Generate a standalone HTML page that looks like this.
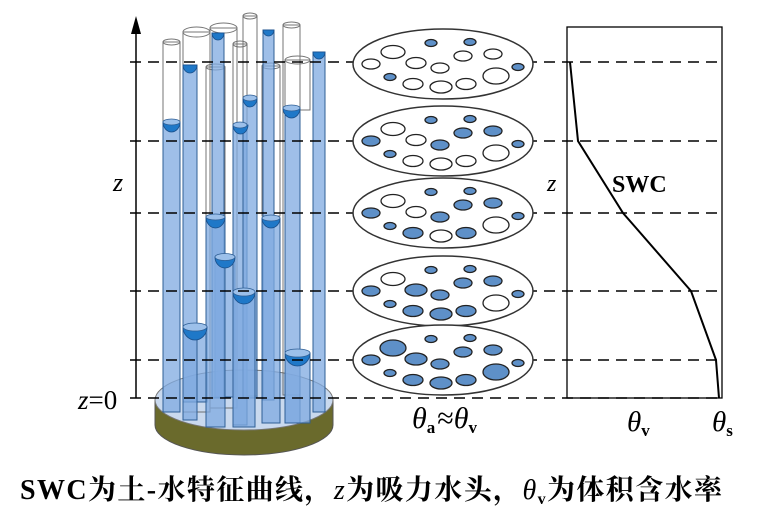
<!DOCTYPE html>
<html><head><meta charset="utf-8"><style>
html,body{margin:0;padding:0;background:#fff;}
svg{display:block}
</style></head><body>
<svg width="757" height="518" viewBox="0 0 757 518" xmlns="http://www.w3.org/2000/svg">
<!-- base -->
<path d="M155,400 L155,425 A89,30 0 0 0 333,425 L333,400 Z" fill="#6a6a2c" stroke="#555" stroke-width="1"/>
<ellipse cx="244" cy="400" rx="89" ry="30" fill="#c9d9ee" stroke="#777" stroke-width="1"/>

<g stroke="#555" stroke-width="1" fill="none" opacity="0.8">
 <rect x="183" y="32" width="27" height="380"/>
 <ellipse cx="196.5" cy="32" rx="13.5" ry="5"/>
 <rect x="210" y="28" width="27" height="380"/>
 <ellipse cx="223.5" cy="28" rx="13.5" ry="5"/>
 <rect x="243" y="16" width="14" height="380"/>
 <ellipse cx="250" cy="16" rx="7" ry="3"/>
 <rect x="283" y="25" width="17" height="370"/>
 <ellipse cx="291.5" cy="25" rx="8.5" ry="3"/>
 <rect x="163" y="42" width="17" height="80"/>
 <ellipse cx="171.5" cy="42" rx="8.5" ry="3"/>
 <rect x="233" y="44" width="14" height="80"/>
 <ellipse cx="240" cy="44" rx="7" ry="3"/>
 <rect x="285" y="60" width="25" height="50"/>
 <ellipse cx="297.5" cy="60" rx="12.5" ry="4"/>
 <rect x="262" y="66" width="18" height="150"/>
 <ellipse cx="271" cy="66" rx="9" ry="3"/>
 <rect x="206" y="67" width="19" height="150"/>
 <ellipse cx="215.5" cy="67" rx="9.5" ry="3"/>
</g>
<g fill="#7fa9e0" fill-opacity="0.75" stroke="#2f5f95" stroke-width="1">
 <rect x="183" y="327" width="24" height="75"/>
 <rect x="215" y="257" width="20" height="140"/>
 <rect x="163" y="122" width="17" height="290"/>
 <rect x="183" y="65" width="14" height="355"/>
 <rect x="212" y="33" width="12" height="365"/>
 <rect x="206" y="217" width="19" height="210"/>
 <rect x="233" y="125" width="14" height="300"/>
 <rect x="243" y="98" width="14" height="300"/>
 <rect x="263" y="30" width="11" height="370"/>
 <rect x="262" y="218" width="18" height="205"/>
 <rect x="233" y="292" width="22" height="135"/>
 <rect x="285" y="108" width="15" height="315"/>
 <rect x="285" y="353" width="25" height="70"/>
 <rect x="313" y="52" width="12" height="360"/>
</g>
<g fill="#1f78c8" stroke="#1a4f8a" stroke-width="0.8">
 <path d="M163,122 a8.5,10 0 0 0 17,0z"/>
 <path d="M183,65 a7,8 0 0 0 14,0z"/>
 <path d="M212,33 a6,7 0 0 0 12,0z"/>
 <path d="M206,217 a9.5,11 0 0 0 19,0z"/>
 <path d="M233,125 a7.5,9 0 0 0 15,0z"/>
 <path d="M243,98 a7,9 0 0 0 14,0z"/>
 <path d="M263,30 a5.5,6 0 0 0 11,0z"/>
 <path d="M262,218 a9,10 0 0 0 18,0z"/>
 <path d="M283,108 a8.5,10 0 0 0 17,0z"/>
 <path d="M313,52 a6,7 0 0 0 12,0z"/>
 <path d="M215,257 a10,11 0 0 0 20,0z"/>
 <path d="M233,292 a11,12 0 0 0 22,0z"/>
 <path d="M183,327 a12,13 0 0 0 24,0z"/>
 <path d="M285,353 a12.5,13 0 0 0 25,0z"/>
</g>
<g fill="#9cc0ea" stroke="#2f5f95" stroke-width="0.8">
 <ellipse cx="171.5" cy="122" rx="8.5" ry="3"/>
 <ellipse cx="215.5" cy="217" rx="9.5" ry="3"/>
 <ellipse cx="240" cy="125" rx="7" ry="3"/>
 <ellipse cx="250" cy="98" rx="7" ry="3"/>
 <ellipse cx="271" cy="218" rx="9" ry="3"/>
 <ellipse cx="291.5" cy="108" rx="8.5" ry="3"/>
 <ellipse cx="225" cy="257" rx="10" ry="3.5"/>
 <ellipse cx="244" cy="292" rx="11" ry="4"/>
 <ellipse cx="195" cy="327" rx="12" ry="4"/>
 <ellipse cx="297.5" cy="353" rx="12.5" ry="4"/>
</g>

<line x1="136" y1="398" x2="136" y2="30" stroke="#000" stroke-width="1.5"/>
<path d="M131,34 L136,16 L141,34 Z" fill="#000"/>
<text x="113" y="191" font-family="Liberation Serif,serif" font-style="italic" font-size="26">z</text>
<text x="78" y="409" font-family="Liberation Serif,serif" font-size="27"><tspan font-style="italic">z</tspan>=0</text>

<g stroke="#000" stroke-width="1.4" stroke-dasharray="11,7">
 <line x1="130" y1="62" x2="722" y2="62"/>
 <line x1="130" y1="141" x2="722" y2="141"/>
 <line x1="130" y1="213" x2="722" y2="213"/>
 <line x1="130" y1="291" x2="722" y2="291"/>
 <line x1="130" y1="360" x2="722" y2="360"/>
 <line x1="130" y1="398" x2="722" y2="398"/>
</g>

<!-- disks; pore classes: s rx6 ry3.5, m rx9 ry5, l rx12 ry7 -->
<g transform="translate(443,64)">
 <ellipse rx="90" ry="35" fill="#fff" stroke="#333" stroke-width="1.5"/>
 <g stroke="#222" stroke-width="1.3" fill="#fff">
 <ellipse cx="-12" cy="-21" rx="6" ry="3.5" fill="#5e90c8"/><ellipse cx="27" cy="-22" rx="6" ry="3.5" fill="#5e90c8"/>
 <ellipse cx="-50" cy="-12" rx="12" ry="6.5"/><ellipse cx="20" cy="-8" rx="9" ry="5"/><ellipse cx="50" cy="-10" rx="9" ry="5"/>
 <ellipse cx="-72" cy="0" rx="9" ry="5"/><ellipse cx="-27" cy="-1" rx="10" ry="5.5"/><ellipse cx="-3" cy="4" rx="9" ry="5"/>
 <ellipse cx="75" cy="3" rx="6" ry="3.5" fill="#5e90c8"/><ellipse cx="-53" cy="13" rx="6" ry="3.5" fill="#5e90c8"/>
 <ellipse cx="-30" cy="20" rx="10" ry="5.5"/><ellipse cx="-2" cy="23" rx="11" ry="6"/><ellipse cx="23" cy="20" rx="10" ry="5.5"/><ellipse cx="53" cy="12" rx="13" ry="8"/>
 </g>
</g>
<g transform="translate(443,141)">
 <ellipse rx="90" ry="35" fill="#fff" stroke="#333" stroke-width="1.5"/>
 <g stroke="#222" stroke-width="1.3" fill="#fff">
 <ellipse cx="-12" cy="-21" rx="6" ry="3.5" fill="#5e90c8"/><ellipse cx="27" cy="-22" rx="6" ry="3.5" fill="#5e90c8"/>
 <ellipse cx="-50" cy="-12" rx="12" ry="6.5"/><ellipse cx="20" cy="-8" rx="9" ry="5" fill="#5e90c8"/><ellipse cx="50" cy="-10" rx="9" ry="5" fill="#5e90c8"/>
 <ellipse cx="-72" cy="0" rx="9" ry="5" fill="#5e90c8"/><ellipse cx="-27" cy="-1" rx="10" ry="5.5"/><ellipse cx="-3" cy="4" rx="9" ry="5" fill="#5e90c8"/>
 <ellipse cx="75" cy="3" rx="6" ry="3.5" fill="#5e90c8"/><ellipse cx="-53" cy="13" rx="6" ry="3.5" fill="#5e90c8"/>
 <ellipse cx="-30" cy="20" rx="10" ry="5.5"/><ellipse cx="-2" cy="23" rx="11" ry="6"/><ellipse cx="23" cy="20" rx="10" ry="5.5"/><ellipse cx="53" cy="12" rx="13" ry="8"/>
 </g>
</g>
<g transform="translate(443,213)">
 <ellipse rx="90" ry="35" fill="#fff" stroke="#333" stroke-width="1.5"/>
 <g stroke="#222" stroke-width="1.3" fill="#fff">
 <ellipse cx="-12" cy="-21" rx="6" ry="3.5" fill="#5e90c8"/><ellipse cx="27" cy="-22" rx="6" ry="3.5" fill="#5e90c8"/>
 <ellipse cx="-50" cy="-12" rx="12" ry="6.5"/><ellipse cx="20" cy="-8" rx="9" ry="5" fill="#5e90c8"/><ellipse cx="50" cy="-10" rx="9" ry="5" fill="#5e90c8"/>
 <ellipse cx="-72" cy="0" rx="9" ry="5" fill="#5e90c8"/><ellipse cx="-27" cy="-1" rx="10" ry="5.5"/><ellipse cx="-3" cy="4" rx="9" ry="5" fill="#5e90c8"/>
 <ellipse cx="75" cy="3" rx="6" ry="3.5" fill="#5e90c8"/><ellipse cx="-53" cy="13" rx="6" ry="3.5" fill="#5e90c8"/>
 <ellipse cx="-30" cy="20" rx="10" ry="5.5" fill="#5e90c8"/><ellipse cx="-2" cy="23" rx="11" ry="6"/><ellipse cx="23" cy="20" rx="10" ry="5.5" fill="#5e90c8"/><ellipse cx="53" cy="12" rx="13" ry="8"/>
 </g>
</g>
<g transform="translate(443,291)">
 <ellipse rx="90" ry="35" fill="#fff" stroke="#333" stroke-width="1.5"/>
 <g stroke="#222" stroke-width="1.3" fill="#5e90c8">
 <ellipse cx="-12" cy="-21" rx="6" ry="3.5"/><ellipse cx="27" cy="-22" rx="6" ry="3.5"/>
 <ellipse cx="-50" cy="-12" rx="12" ry="6.5" fill="#fff"/><ellipse cx="20" cy="-8" rx="9" ry="5"/><ellipse cx="50" cy="-10" rx="9" ry="5"/>
 <ellipse cx="-72" cy="0" rx="9" ry="5"/><ellipse cx="-27" cy="-1" rx="11" ry="6"/><ellipse cx="-3" cy="4" rx="9" ry="5"/>
 <ellipse cx="75" cy="3" rx="6" ry="3.5"/><ellipse cx="-53" cy="13" rx="6" ry="3.5"/>
 <ellipse cx="-30" cy="20" rx="10" ry="5.5"/><ellipse cx="-2" cy="23" rx="11" ry="6"/><ellipse cx="23" cy="20" rx="10" ry="5.5"/><ellipse cx="53" cy="12" rx="13" ry="8" fill="#fff"/>
 </g>
</g>
<g transform="translate(443,360)">
 <ellipse rx="90" ry="35" fill="#fff" stroke="#333" stroke-width="1.5"/>
 <g stroke="#222" stroke-width="1.3" fill="#5e90c8">
 <ellipse cx="-12" cy="-21" rx="6" ry="3.5"/><ellipse cx="27" cy="-22" rx="6" ry="3.5"/>
 <ellipse cx="-50" cy="-12" rx="13" ry="8"/><ellipse cx="20" cy="-8" rx="9" ry="5"/><ellipse cx="50" cy="-10" rx="9" ry="5"/>
 <ellipse cx="-72" cy="0" rx="9" ry="5"/><ellipse cx="-27" cy="-1" rx="11" ry="6"/><ellipse cx="-3" cy="4" rx="9" ry="5"/>
 <ellipse cx="75" cy="3" rx="6" ry="3.5"/><ellipse cx="-53" cy="13" rx="6" ry="3.5"/>
 <ellipse cx="-30" cy="20" rx="10" ry="5.5"/><ellipse cx="-2" cy="23" rx="11" ry="6"/><ellipse cx="23" cy="20" rx="10" ry="5.5"/><ellipse cx="53" cy="12" rx="13" ry="8"/>
 </g>
</g>
<text x="412" y="428" font-family="Liberation Serif,serif" font-size="30"><tspan font-style="italic">θ</tspan><tspan font-size="17" font-weight="bold" dy="5">a</tspan><tspan dy="-5" dx="2">≈</tspan><tspan font-style="italic">θ</tspan><tspan font-size="17" font-weight="bold" dy="5">v</tspan></text>

<rect x="567" y="27" width="155" height="371" fill="none" stroke="#000" stroke-width="1.3"/>
<polyline points="570,62 578,141 623,213 691,291 716,360 719,398" fill="none" stroke="#000" stroke-width="2"/>
<text x="547" y="191" font-family="Liberation Serif,serif" font-style="italic" font-size="24">z</text>
<text x="612" y="192" font-family="Liberation Serif,serif" font-weight="bold" font-size="24">SWC</text>
<text x="627" y="431" font-family="Liberation Serif,serif" font-size="29"><tspan font-style="italic">θ</tspan><tspan font-size="17" font-weight="bold" dy="5">v</tspan></text>
<text x="712" y="431" font-family="Liberation Serif,serif" font-size="29"><tspan font-style="italic">θ</tspan><tspan font-size="17" font-weight="bold" dy="5">s</tspan></text>

<text x="20" y="499" font-family="Liberation Serif,'Noto Serif CJK SC',serif" font-weight="bold" font-size="28" textLength="702" lengthAdjust="spacing">SWC为土-水特征曲线，<tspan font-style="italic" font-weight="normal">z</tspan>为吸力水头，<tspan font-style="italic" font-weight="normal">θ</tspan><tspan font-size="16" dy="5">v</tspan><tspan dy="-5">为体积含水率</tspan></text>
</svg>
</body></html>
